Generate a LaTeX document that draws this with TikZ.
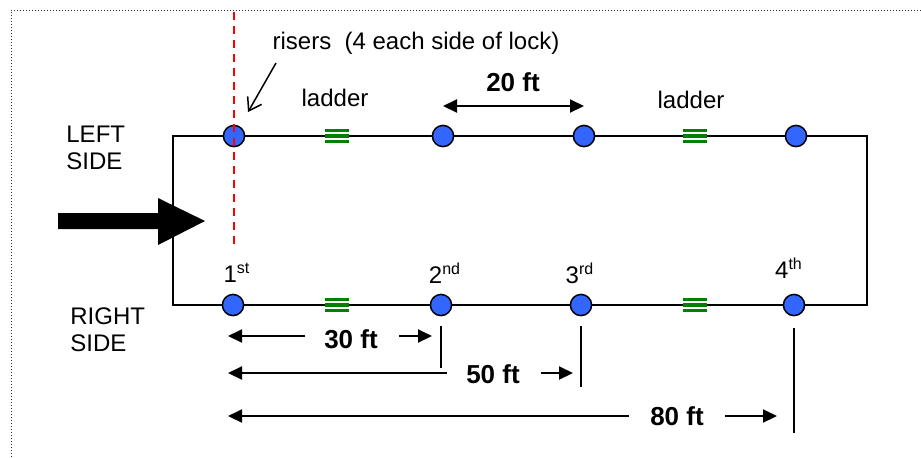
\documentclass[tikz,border=0pt]{standalone}
\usepackage{fontspec}
\setmainfont{Liberation Sans}
\usetikzlibrary{arrows.meta,positioning}
\definecolor{riserblue}{HTML}{3366FF}
\definecolor{laddergreen}{HTML}{008000}
\newcommand{\ordnum}[2]{#1\textsuperscript{#2}}

\begin{document}
\begin{tikzpicture}[x=0.5pt, y=-0.5pt,
    riser/.style={circle, draw, line width=0.75pt, fill=riserblue, minimum size=10.6pt, inner sep=0},
    ladder/.style={rectangle, inner sep=0, minimum width=12pt, minimum height=7pt, fill=laddergreen,
      path picture={\draw[white, line width=0.8pt]
        ([yshift=1.6pt]path picture bounding box.west) -- ([yshift=1.6pt]path picture bounding box.east)
        ([yshift=-1.6pt]path picture bounding box.west) -- ([yshift=-1.6pt]path picture bounding box.east);}},
    lbl/.style={font=\fontsize{12}{13.5}\selectfont, inner sep=0},
    dimlbl/.style={font=\fontsize{13}{14}\selectfont\bfseries, inner sep=0},
    dimtip/.style={-{Triangle[length=7pt,width=6.5pt]}, line width=1pt}]
    \useasboundingbox (0,0) rectangle (921,457);
    % frame, top and left only
    \draw[black!80, line width=0.5pt, dash pattern=on 0.5pt off 1pt] (11,457) -- (11,10) -- (921,10);
    % lock outline
    \draw[line width=1pt] (173,136) -- (867,136) -- (867,305) -- (173,305) -- cycle;
    % risers, left side
    \node[riser] (t1) at (234,136) {};
    \node[riser] (t2) at (443,136) {};
    \node[riser] (t3) at (584,136) {};
    \node[riser] (t4) at (796,136) {};
    % risers, right side
    \node[riser] (b1) at (233,305) {};
    \node[riser] (b2) at (441,305) {};
    \node[riser] (b3) at (581,305) {};
    \node[riser] (b4) at (794,305) {};
    % ladders
    \node[ladder] (lt1) at (337,136) {};
    \node[ladder] (lt2) at (695,136) {};
    \node[ladder] (lb1) at (337,305) {};
    \node[ladder] (lb2) at (695,305) {};
    \node[lbl] (lad1) at (335,98) {ladder};
    \node[lbl] (lad2) at (691,100) {ladder};
    % red dashed line through first riser
    \draw[red, line width=1pt, dash pattern=on 4pt off 3pt] (234,12) -- (234,247);
    % riser label
    \node[lbl] (riserlbl) at (416,43) {risers\ \ (4 each side of lock)};
    \coordinate (risertail) at (276,63);
    \coordinate (risertip) at (248,112);
    \draw[-{Straight Barb[length=6pt,width=8pt]}, line width=0.75pt] (risertail) -- (risertip);
    % spacing
    \draw[{Triangle[length=7pt,width=6.5pt]}-{Triangle[length=7pt,width=6.5pt]}, line width=1pt]
      ([yshift=15pt]t2.center) -- ([yshift=15pt]t3.center);
    \node[dimlbl] (d20) at (513,82) {20 ft};
    % sides and flow
    \node[lbl, anchor=west, align=left] (lside) at (66,148) {LEFT\\SIDE};
    \node[lbl, anchor=west, align=left] (rside) at (70,330) {RIGHT\\SIDE};
    \fill (58,213) -- (158,213) -- (158,198) -- (205,221) -- (158,245) -- (158,229) -- (58,229) -- cycle;
    % riser order
    \node[lbl] (o1) at (237,273) {\ordnum{1}{st}};
    \node[lbl] (o2) at (445,273) {\ordnum{2}{nd}};
    \node[lbl] (o3) at (580,273) {\ordnum{3}{rd}};
    \node[lbl] (o4) at (789,268) {\ordnum{4}{th}};
    % distances from first riser
    \coordinate (s30) at (228,336);
    \coordinate (s50) at (228,373);
    \coordinate (s80) at (228,416);
    \node[dimlbl] (d30) at (351,339) {30 ft};
    \node[dimlbl] (d50) at (493,374) {50 ft};
    \node[dimlbl] (d80) at (677,416) {80 ft};
    \draw[dimtip] (305,336) -- (s30);
    \draw[dimtip] (399,336) -- (432,336);
    \draw[dimtip] (447,373) -- (s50);
    \draw[dimtip] (541,373) -- (573,373);
    \draw[dimtip] (629,416) -- (s80);
    \draw[dimtip] (725,416) -- (777,416);
    \draw[line width=1pt] ([yshift=-5pt]b2.south) -- ++(0,42);
    \draw[line width=1pt] ([yshift=-5pt]b3.south) -- ++(0,61);
    \draw[line width=1pt] ([yshift=-6pt]b4.south) -- ++(0,105);
\end{tikzpicture}
\end{document}
